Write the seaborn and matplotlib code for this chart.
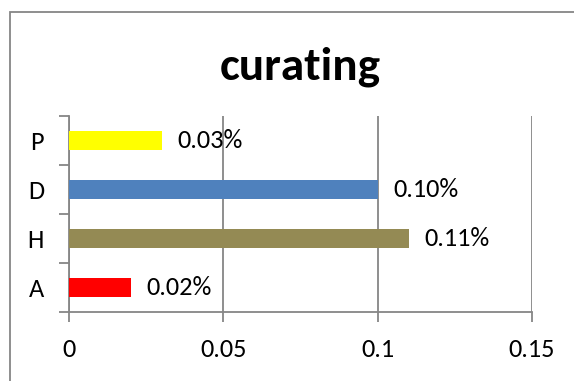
import matplotlib
matplotlib.use("Agg")
import matplotlib.pyplot as plt
import seaborn as sns
import pandas as pd
from matplotlib.patches import Rectangle

categories = ["P", "D", "H", "A"]
values = [0.03, 0.10, 0.11, 0.02]
labels = ["0.03%", "0.10%", "0.11%", "0.02%"]
colors = ["#FFFF00", "#4F81BD", "#948A54", "#FF0000"]
xticks = [0, 0.05, 0.1, 0.15]
xticklabels = ["0", "0.05", "0.1", "0.15"]

sns.set_style("white")
plt.rcParams["font.family"] = ["Carlito", "DejaVu Sans"]
plt.rcParams["text.color"] = "black"
plt.rcParams["xtick.color"] = "black"
plt.rcParams["ytick.color"] = "black"

df = pd.DataFrame({"cat": categories, "val": values})

fig = plt.figure(figsize=(5.74, 3.81), dpi=100)
ax = fig.add_axes([69/574, 1-312/381, (532-69)/574, (312-116)/381])

sns.barplot(data=df, y="cat", x="val", hue="cat", palette=colors, order=categories,
            hue_order=categories, orient="h", width=0.4, legend=False, ax=ax,
            saturation=1, linewidth=0, zorder=3)

fs = 19
ax.set_xlim(0, 0.15)
ax.set_ylim(3.5, -0.5)
ax.set_xticks(xticks)
ax.set_xticklabels(xticklabels, fontsize=fs)
ax.set_yticks([-0.5, 0.5, 1.5, 2.5, 3.5])
ax.set_yticklabels([])
ax.set_yticks(range(4), minor=True)
ax.set_yticklabels(categories, minor=True, fontsize=fs)
ax.tick_params(axis="y", which="minor", length=0, pad=18)
ax.tick_params(axis="y", which="major", length=7, width=1.3, color="#868686", direction="out", left=True)
ax.tick_params(axis="x", length=7, width=1.3, color="#868686", direction="out", bottom=True, pad=11.5)
ax.set_xlabel("")
ax.set_ylabel("")

ax.grid(axis="x", color="#868686", linewidth=1.3, zorder=0)
ax.grid(axis="y", visible=False)
for s in ["top", "right"]:
    ax.spines[s].set_visible(False)
for s in ["left", "bottom"]:
    ax.spines[s].set_color("#868686")
    ax.spines[s].set_linewidth(1.3)

for i, (v, lab) in enumerate(zip(values, labels)):
    ax.annotate(lab, xy=(v, i), xytext=(11.5, 0), textcoords="offset points",
                va="center", ha="left", fontsize=fs)

fig.suptitle("curating", x=300/574, y=1-67/381, va="center", fontsize=34,
             fontweight="bold")

fig.patches.append(Rectangle((10/574, -0.2), 2, 1.2 - 12/381, transform=fig.transFigure,
                             fill=False, edgecolor="#868686", linewidth=1.3))

fig.savefig("out.png", dpi=100)
